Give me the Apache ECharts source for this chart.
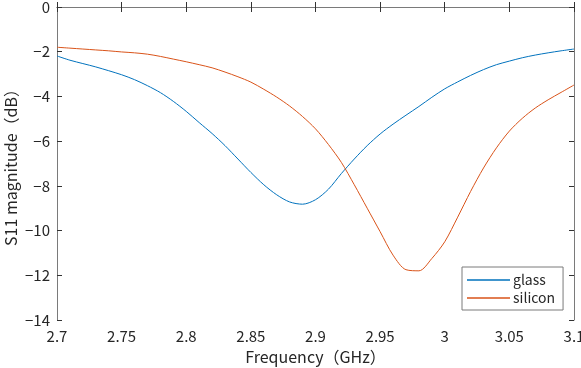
<!DOCTYPE html>
<html>
<head>
<meta charset="utf-8">
<script src="https://cdn.jsdelivr.net/npm/echarts@6/dist/echarts.min.js"></script>
<style>
  html, body { margin: 0; padding: 0; background: #fff; }
  #chart { width: 581px; height: 368px; }
</style>
</head>
<body>
<div id="chart"></div>
<script>
  // frequency points (GHz)
  let freq = [2.70, 2.71, 2.72, 2.73, 2.74, 2.75, 2.76, 2.77, 2.78, 2.79,
    2.80, 2.81, 2.82, 2.83, 2.84, 2.85, 2.86, 2.87, 2.88, 2.89,
    2.90, 2.91, 2.92, 2.93, 2.94, 2.95, 2.96, 2.97, 2.98, 2.99,
    3.00, 3.01, 3.02, 3.03, 3.04, 3.05, 3.06, 3.07, 3.08, 3.09, 3.10];

  let glass = [-2.19, -2.38, -2.53, -2.68, -2.85, -3.03, -3.25, -3.52, -3.83, -4.22,
    -4.67, -5.17, -5.66, -6.20, -6.80, -7.40, -7.95, -8.40, -8.72, -8.82,
    -8.62, -8.15, -7.45, -6.80, -6.20, -5.68, -5.24, -4.84, -4.45, -4.04,
    -3.66, -3.35, -3.06, -2.80, -2.58, -2.42, -2.27, -2.15, -2.05, -1.96, -1.88];

  let silicon = [-1.80, -1.84, -1.88, -1.92, -1.96, -2.01, -2.05, -2.11, -2.21, -2.33,
    -2.45, -2.58, -2.72, -2.91, -3.12, -3.36, -3.68, -4.03, -4.43, -4.90,
    -5.45, -6.15, -6.95, -7.95, -9.00, -10.05, -11.10, -11.75, -11.80, -11.25,
    -10.50, -9.40, -8.25, -7.20, -6.30, -5.55, -4.98, -4.52, -4.15, -3.82, -3.49];

  const font = '"Noto Sans CJK JP", "Noto Sans", sans-serif';

  function pairs(xs, ys) {
    return xs.map((x, i) => [x, ys[i]]);
  }

  function yFmt(v) {
    return v < 0 ? '\u2212' + Math.abs(v) : String(v);
  }

  let axisLine = { show: true, lineStyle: { color: '#7a7a7a', width: 1 } };
  let tick = { show: true, inside: true, length: 5, lineStyle: { color: '#333', width: 1 } };

  let option = {
    animation: false,
    color: ['#0072BD', '#D95319'],
    grid: { left: 57, right: 7, top: 7, bottom: 48, outerBoundsMode: 'none', containLabel: false },
    legend: {
      orient: 'vertical',
      left: 462,
      top: 267,
      width: 100,
      padding: [6, 8, 5, 5],
      itemGap: 4,
      itemWidth: 43,
      itemHeight: 1.5,
      icon: 'rect',
      borderColor: '#7a7a7a',
      borderWidth: 1,
      backgroundColor: '#fff',
      textStyle: { fontFamily: font, fontSize: 14, color: '#262626', padding: [0, 0, 0, -2], lineHeight: 14 },
      data: ['glass', 'silicon']
    },
    xAxis: [{
      type: 'value',
      min: 2.7,
      max: 3.1,
      interval: 0.05,
      position: 'bottom',
      name: 'Frequency\uFF08GHz\uFF09',
      nameLocation: 'middle',
      nameGap: 29,
      nameMoveOverlap: false,
      nameTextStyle: { fontFamily: font, fontSize: 16, color: '#262626' },
      axisLine: axisLine,
      axisTick: tick,
      splitLine: { show: false },
      axisLabel: {
        fontFamily: font, fontSize: 15, color: '#262626', margin: 9,
        formatter: v => String(Math.round(v * 100) / 100)
      }
    }, {
      type: 'value',
      min: 2.7,
      max: 3.1,
      interval: 0.05,
      position: 'top',
      axisLine: axisLine,
      axisTick: tick,
      splitLine: { show: false },
      axisLabel: { show: false }
    }],
    yAxis: [{
      type: 'value',
      min: -14,
      max: 0,
      interval: 2,
      position: 'left',
      name: 'S11 magnitude\uFF08dB\uFF09',
      nameLocation: 'middle',
      nameGap: 38,
      nameMoveOverlap: false,
      nameTextStyle: { fontFamily: font, fontSize: 16, color: '#262626' },
      axisLine: axisLine,
      axisTick: tick,
      splitLine: { show: false },
      axisLabel: { fontFamily: font, fontSize: 15, color: '#262626', margin: 7, formatter: yFmt }
    }, {
      type: 'value',
      min: -14,
      max: 0,
      interval: 2,
      position: 'right',
      axisLine: axisLine,
      axisTick: tick,
      splitLine: { show: false },
      axisLabel: { show: false }
    }],
    series: [{
      name: 'glass',
      type: 'line',
      symbol: 'none',
      smooth: 0.3,
      lineStyle: { width: 1 },
      data: pairs(freq, glass)
    }, {
      name: 'silicon',
      type: 'line',
      symbol: 'none',
      smooth: 0.3,
      lineStyle: { width: 1 },
      data: pairs(freq, silicon)
    }]
  };

  let chart = echarts.init(document.getElementById('chart'));
  chart.setOption(option);
</script>
</body>
</html>
